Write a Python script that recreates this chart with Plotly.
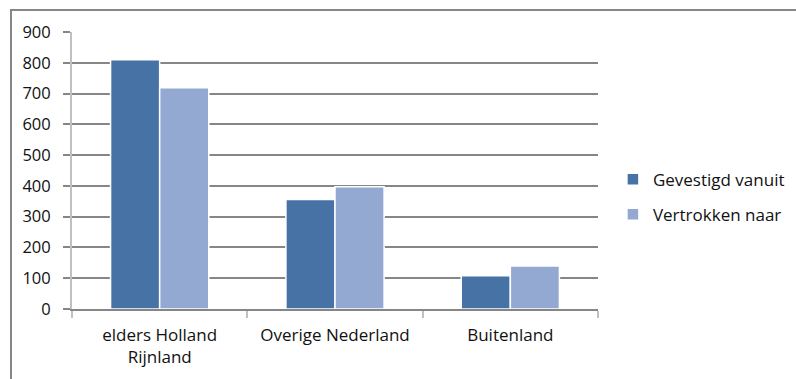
import plotly.graph_objects as go

categories = ["elders Holland<br>Rijnland", "Overige Nederland", "Buitenland"]
gevestigd = [810, 356, 108]
vertrokken = [719, 397, 140]
series_names = ["Gevestigd vanuit", "Vertrokken naar"]
y_ticks = [0, 100, 200, 300, 400, 500, 600, 700, 800, 900]

fig = go.Figure()
fig.add_trace(go.Bar(x=categories, y=gevestigd, name=series_names[0],
                     marker=dict(color="#4672A6", line=dict(color="white", width=1.5)),
                     legendgroup="a"))
fig.add_trace(go.Bar(x=categories, y=vertrokken, name=series_names[1],
                     marker=dict(color="#94A9D1", line=dict(color="white", width=1.5)),
                     legendgroup="b"))

fig.update_layout(
    width=796, height=379,
    margin=dict(l=72, r=198, t=32, b=70),
    paper_bgcolor="white", plot_bgcolor="white",
    font=dict(family="Open Sans, Lato, sans-serif", size=17, color="#111111"),
    barmode="group", bargap=0.44, bargroupgap=0.0,
    showlegend=True,
    legend=dict(xref="container", yref="container", x=0.77, y=0.48,
                xanchor="left", yanchor="middle",
                font=dict(size=17), tracegroupgap=10, traceorder="grouped",
                itemwidth=30),
    xaxis=dict(showgrid=False, showline=True, linecolor="#868686", linewidth=1.5,
               ticks="outside", tickson="boundaries", ticklen=7, tickcolor="#c0c0c0",
               tickwidth=1.5, fixedrange=True, ticklabelstandoff=10),
    yaxis=dict(range=[0, 900], tickvals=y_ticks, showgrid=True, gridcolor="#868686",
               gridwidth=1.5, showline=True, linecolor="#c0c0c0", linewidth=2,
               ticks="outside", ticklen=7, tickcolor="#868686", tickwidth=1.5,
               zeroline=False, ticklabelstandoff=9, tickfont=dict(size=16.5)),
    shapes=[dict(type="rect", xref="paper", yref="paper",
                 x0=-0.116, x1=1.40, y0=-0.30, y1=1.079,
                 line=dict(color="#868686", width=2), fillcolor="rgba(0,0,0,0)",
                 layer="below")],
)

fig.write_html("out.html")
